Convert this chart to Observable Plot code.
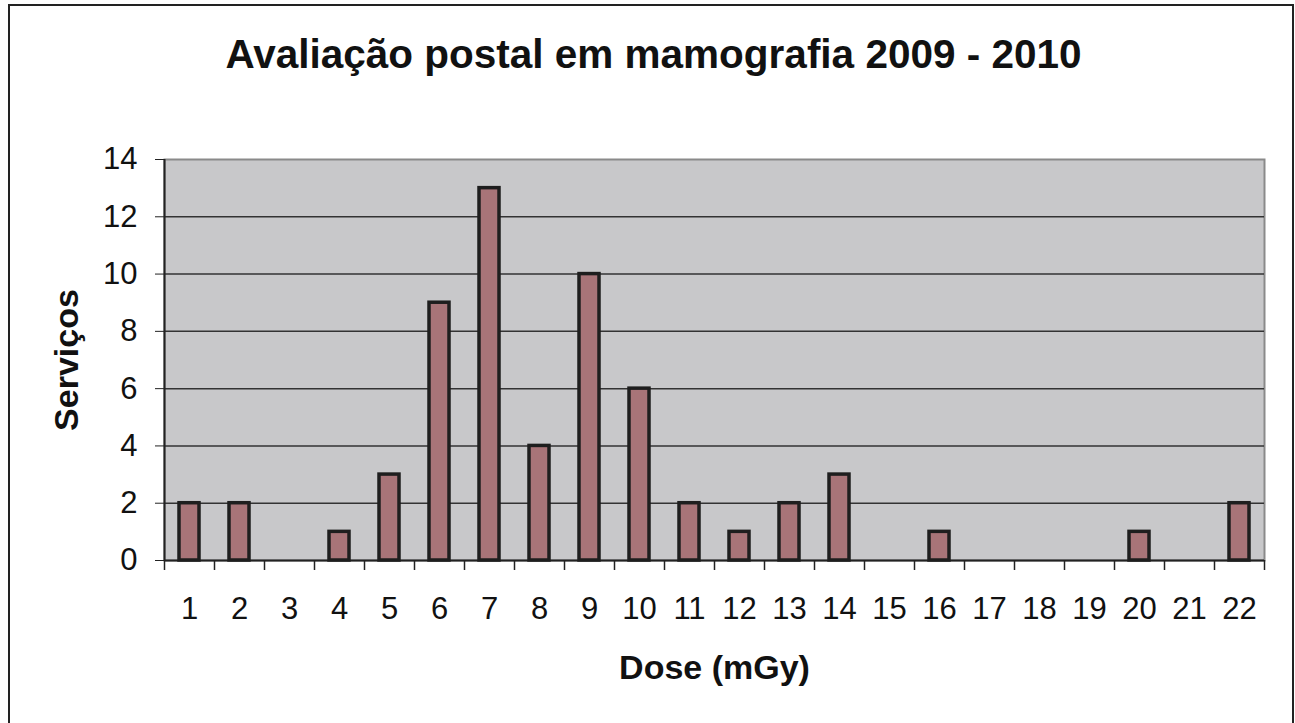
<!DOCTYPE html>
<html><head><meta charset="utf-8">
<script src="https://cdn.jsdelivr.net/npm/d3@7"></script>
<script src="https://cdn.jsdelivr.net/npm/@observablehq/plot@0.6"></script>
<style>
body{margin:0;background:#fff;}
#wrap{position:relative;width:1295px;height:723px;overflow:hidden;}
#border{position:absolute;left:8px;top:4px;width:1286px;height:730px;border:2px solid #222;box-sizing:border-box;pointer-events:none;}
svg{position:absolute;left:0;top:0;}
</style></head>
<body><div id="wrap"><div id="border"></div></div>
<script>
const title = "Avaliação postal em mamografia 2009 - 2010";
const xTitle = "Dose (mGy)";
const yTitle = "Serviços";
const doses = ["1","2","3","4","5","6","7","8","9","10","11","12","13","14","15","16","17","18","19","20","21","22"];
const servicos = [2,2,0,1,3,9,13,4,10,6,2,1,2,3,0,1,0,0,0,1,0,2];
const yTicks = [0,2,4,6,8,10,12,14];

const data = doses.map((d,i)=>({dose:d, n:servicos[i]}));
const font = "Liberation Sans, Arial, sans-serif";

const chart = Plot.plot({
  width:1295, height:723,
  marginLeft:164, marginRight:31, marginTop:159, marginBottom:163,
  style:{fontFamily:font, fontSize:"31px", color:"#111", background:"transparent", overflow:"visible"},
  x:{type:"band", domain:doses, paddingInner:0.6, paddingOuter:0.3},
  y:{domain:[0,14]},
  marks:[
    Plot.frame({fill:"#c8c8ca", stroke:"#8a8a8a", strokeWidth:2}),
    Plot.ruleY(yTicks.filter(v=>v>0 && v<14), {stroke:"#333", strokeWidth:1.5}),
    Plot.ruleY([0], {stroke:"#222", strokeWidth:2}),
    Plot.ruleX([doses[0]], {dx:-25, stroke:"#222", strokeWidth:2}),
    Plot.axisY(yTicks, {tickSize:9, tickPadding:18, label:null, stroke:"#222", fontSize:31}),
    // x tick marks at category boundaries
    Plot.ruleX(doses, {dx:-25, y1:0, y2:0, insetBottom:-10, stroke:"#222", strokeWidth:1.5}),
    Plot.ruleX([doses[doses.length-1]], {dx:25, y1:0, y2:0, insetBottom:-10, stroke:"#222", strokeWidth:1.5}),
    Plot.barY(data, {x:"dose", y:"n", fill:"#a87478", stroke:"#1e1e1e", strokeWidth:3.5}),
    Plot.axisX({tickSize:0, tickPadding:36, label:null, fontSize:31}),
    Plot.text([title], {frameAnchor:"top", lineAnchor:"middle", dy:-104, dx:-61, fontSize:40.5, fontWeight:"bold", fill:"#111"}),
    Plot.text([xTitle], {frameAnchor:"bottom", lineAnchor:"middle", dy:108, dx:0, fontSize:34, fontWeight:"bold", fill:"#111"}),
    Plot.text([yTitle], {frameAnchor:"left", lineAnchor:"middle", dx:-97, rotate:-90, textAnchor:"middle", fontSize:34, fontWeight:"bold", fill:"#111"})
  ]
});
document.getElementById("wrap").appendChild(chart);
</script></body></html>
